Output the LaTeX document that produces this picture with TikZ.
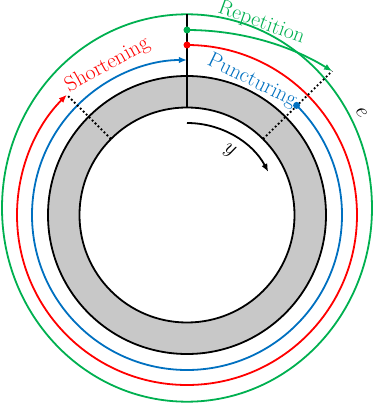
\RequirePackage{fix-cm}
\documentclass[tikz,border=0pt]{standalone}
\usetikzlibrary{arrows.meta}
\definecolor{cgreen}{HTML}{00B050}
\definecolor{cred}{HTML}{FF0000}
\definecolor{cblue}{HTML}{0070C0}
\definecolor{cgray}{RGB}{200,200,200}
\begin{document}
\begin{tikzpicture}[x=1pt,y=1pt,
  lw/.style={line width=1.8pt},
  tip/.style={-{Latex[length=8pt,width=6.5pt]}},
  dotnode/.style={circle, inner sep=0pt, minimum size=7pt},
  lab/.style={font=\fontsize{21.5}{25}\selectfont, inner sep=0pt},
  dotline/.style={line width=1.8pt, dash pattern=on 1.8pt off 2.4pt}]
\useasboundingbox (-187,-189) rectangle (187,215);
\coordinate (O) at (0,0);
% annulus
\fill[cgray, even odd rule] (O) circle[radius=139pt] (O) circle[radius=107.5pt];
\draw[lw] (O) circle[radius=139pt];
\draw[lw] (O) circle[radius=107.5pt];
% key points
\coordinate (top) at (90:107.5pt);
\coordinate (etop) at (0,200.7);
\coordinate (in45) at (45:107.5pt);
\coordinate (in135) at (135:107.5pt);
\coordinate (gd) at (90:185pt);
\coordinate (rd) at (90:170pt);
\coordinate (bd) at (45:155pt);
\coordinate (ys) at (90:92pt);
% outer e curve
\draw[lw, cgreen] (0,7) ellipse[x radius=185pt, y radius=193.7pt];
% vertical line
\draw[lw] (top) -- (etop);
% repetition
\draw[lw, cgreen, tip] (gd) arc[start angle=90, end angle=58.4, radius=277pt] coordinate (gend);
% shortening
\draw[lw, cred, tip] (rd) arc[start angle=90, end angle=-225, radius=170pt] coordinate (rend);
% puncturing
\draw[lw, cblue, tip] (bd) arc[start angle=45, end angle=-270, radius=155pt];
% dotted markers
\draw[dotline] (in45) -- (gend);
\draw[dotline] (in135) -- (rend);
% y arrow
\draw[lw, tip] (ys) arc[start angle=90, end angle=28, radius=92pt];
% dots
\node[dotnode, fill=cgreen] (gdot) at (gd) {};
\node[dotnode, fill=cred] (rdot) at (rd) {};
\node[dotnode, fill=cblue] (bdot) at (bd) {};
% labels
\node[lab, text=cgreen, rotate=-20] (rep) at (74.5,191.8) {Repetition};
\node[lab, text=cred, rotate=29] (sho) at (-79.5,150) {Shortening};
\node[lab, text=cblue, rotate=-26] (pun) at (65,134) {Puncturing};
\node[lab, rotate=-30] (ylab) at (42.5,64) {$y$};
\node[lab, rotate=-61] (elab) at (174.5,102) {$e$};
\end{tikzpicture}
\end{document}
